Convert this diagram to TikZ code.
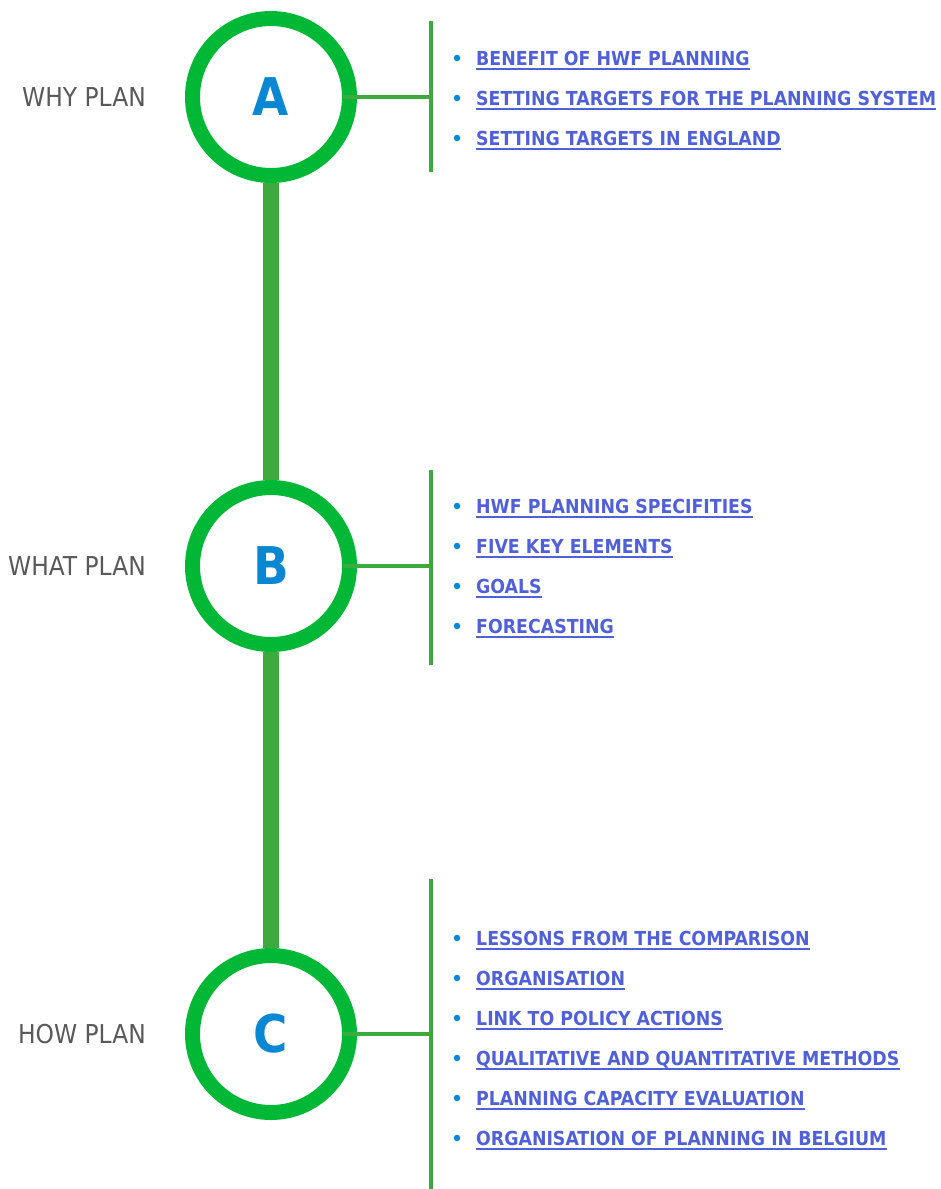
\documentclass[tikz,border=0pt]{standalone}
\usepackage{fontspec}
\setmainfont{DejaVu Sans Condensed}
\usetikzlibrary{positioning}

\definecolor{ringgreen}{HTML}{00B836}
\definecolor{stemgreen}{HTML}{3DAA3D}
\definecolor{letterblue}{HTML}{0A87D3}
\definecolor{linkblue}{HTML}{5060D8}
\definecolor{labelgray}{HTML}{595959}

\tikzset{
  stage/.style={draw=ringgreen,fill=white,shape=circle,line width=15pt,minimum size=157pt,inner sep=0pt,text=letterblue,font=\fontsize{52}{52}\selectfont\bfseries},
  side/.style={anchor=east,inner sep=0pt,text=labelgray,font=\fontsize{26}{26}\selectfont},
  topic/.style={anchor=base west,inner sep=0pt,text=linkblue,font=\fontsize{19.3}{19.3}\selectfont\bfseries,
    append after command={\pgfextra{\let\topicnode\tikzlastnode}
      ([yshift=-4pt]\topicnode.base west) edge[draw=linkblue,line width=1.6pt] ([yshift=-4pt]\topicnode.base east)}},
  dot/.style={shape=circle,fill=letterblue,minimum size=6.5pt,inner sep=0pt},
  stem/.style={draw=stemgreen,line width=16pt},
  tie/.style={draw=stemgreen,line width=4pt}
}

\begin{document}
\begin{tikzpicture}[x=1pt,y=-1pt]
\useasboundingbox (0,0) rectangle (940,1189);

\path (271,97)   node[stage] (A) {A};
\path (271,566)  node[stage] (B) {B};
\path (271,1034) node[stage] (C) {C};

\path (146,97)   node[side] (LA) {WHY PLAN};
\path (146,566)  node[side] (LB) {WHAT PLAN};
\path (146,1034) node[side] (LC) {HOW PLAN};

\draw[stem] (A) to (B);
\draw[stem] (B) to (C);

\coordinate (Ajoin) at (431,97);
\coordinate (Bjoin) at (431,566);
\coordinate (Cjoin) at (431,1034);
\coordinate (Atop) at (431,21);
\coordinate (Abot) at (431,172);
\coordinate (Btop) at (431,470);
\coordinate (Bbot) at (431,665);
\coordinate (Ctop) at (431,879);
\coordinate (Cbot) at (431,1189);

\draw[tie,shorten <=-14pt] (A) to (Ajoin);
\draw[tie,shorten <=-14pt] (B) to (Bjoin);
\draw[tie,shorten <=-14pt] (C) to (Cjoin);
\draw[tie] (Atop) to (Abot);
\draw[tie] (Btop) to (Bbot);
\draw[tie] (Ctop) to (Cbot);

% why plan
\path (457,58)  node[dot] (a1) {};
\path (457,98)  node[dot] (a2) {};
\path (457,138) node[dot] (a3) {};
\path (476,65)  node[topic] (ta1) {BENEFIT OF HWF PLANNING};
\path (476,105) node[topic] (ta2) {SETTING TARGETS FOR THE PLANNING SYSTEM};
\path (476,145) node[topic] (ta3) {SETTING TARGETS IN ENGLAND};

% what plan
\path (457,506) node[dot] (b1) {};
\path (457,546) node[dot] (b2) {};
\path (457,586) node[dot] (b3) {};
\path (457,626) node[dot] (b4) {};
\path (476,513) node[topic] (tb1) {HWF PLANNING SPECIFITIES};
\path (476,553) node[topic] (tb2) {FIVE KEY ELEMENTS};
\path (476,593) node[topic] (tb3) {GOALS};
\path (476,633) node[topic] (tb4) {FORECASTING};

% how plan
\path (457,938)  node[dot] (c1) {};
\path (457,978)  node[dot] (c2) {};
\path (457,1018) node[dot] (c3) {};
\path (457,1058) node[dot] (c4) {};
\path (457,1098) node[dot] (c5) {};
\path (457,1138) node[dot] (c6) {};
\path (476,945)  node[topic] (tc1) {LESSONS FROM THE COMPARISON};
\path (476,985)  node[topic] (tc2) {ORGANISATION};
\path (476,1025) node[topic] (tc3) {LINK TO POLICY ACTIONS};
\path (476,1065) node[topic] (tc4) {QUALITATIVE AND QUANTITATIVE METHODS};
\path (476,1105) node[topic] (tc5) {PLANNING CAPACITY EVALUATION};
\path (476,1145) node[topic] (tc6) {ORGANISATION OF PLANNING IN BELGIUM};
\end{tikzpicture}
\end{document}
